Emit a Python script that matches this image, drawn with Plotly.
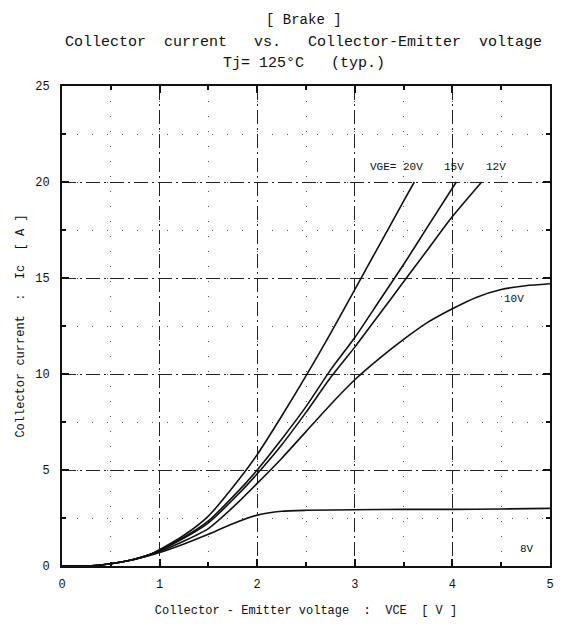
import plotly.graph_objects as go

# ---- data ----
x20 = [0, 0.3, 0.5, 0.7, 0.9, 1.0, 1.25, 1.5, 1.75, 2.0, 2.25, 2.5, 2.75, 3.0, 3.25, 3.5, 3.61]
y20 = [0, 0.01, 0.12, 0.3, 0.6, 0.85, 1.6, 2.6, 4.1, 5.8, 7.8, 9.9, 12.1, 14.4, 16.7, 19.0, 20.0]

x15 = [0, 0.3, 0.5, 0.7, 0.9, 1.0, 1.25, 1.5, 1.75, 2.0, 2.25, 2.5, 2.75, 3.0, 3.25, 3.5, 3.75, 4.04]
y15 = [0, 0.01, 0.12, 0.3, 0.6, 0.82, 1.5, 2.35, 3.6, 5.0, 6.6, 8.3, 10.2, 11.9, 13.8, 15.7, 17.7, 20.0]

x12 = [0, 0.3, 0.5, 0.7, 0.9, 1.0, 1.25, 1.5, 1.75, 2.0, 2.25, 2.5, 2.75, 3.0, 3.25, 3.5, 3.75, 4.0, 4.3]
y12 = [0, 0.01, 0.12, 0.3, 0.6, 0.8, 1.45, 2.25, 3.45, 4.8, 6.3, 8.0, 9.8, 11.4, 13.1, 14.8, 16.5, 18.2, 20.0]

x10 = [0, 0.3, 0.5, 0.7, 0.9, 1.0, 1.25, 1.5, 1.75, 2.0, 2.25, 2.5, 2.75, 3.0, 3.25, 3.5, 3.75, 4.0, 4.25, 4.5, 4.75, 5.0]
y10 = [0, 0.01, 0.12, 0.3, 0.58, 0.75, 1.3, 1.95, 3.05, 4.3, 5.6, 7.0, 8.4, 9.7, 10.8, 11.8, 12.7, 13.4, 14.0, 14.4, 14.6, 14.7]

x8 = [0, 0.3, 0.5, 0.7, 0.9, 1.0, 1.25, 1.5, 1.75, 2.0, 2.25, 2.5, 3.0, 3.5, 4.0, 4.5, 5.0]
y8 = [0, 0.01, 0.12, 0.3, 0.55, 0.7, 1.15, 1.65, 2.2, 2.65, 2.85, 2.9, 2.93, 2.95, 2.95, 2.97, 3.0]

curve_labels = ["VGE= 20V", "15V", "12V", "10V", "8V"]
label_x = [3.43, 4.02, 4.45, 4.63, 4.76]
label_y = [20.8, 20.8, 20.8, 13.9, 0.9]

x_ticks = [0, 1, 2, 3, 4, 5]
y_ticks = [0, 5, 10, 15, 20, 25]

title_lines = ["[ Brake ]",
               "Collector  current   vs.   Collector-Emitter  voltage",
               "Tj= 125\u00b0C   (typ.)"]
title_sizes = [14, 15, 15]
title_py = [20, 42, 63]
x_title = "Collector - Emitter voltage  :  VCE  [ V ]"
y_title = "Collector current  :  Ic  [ A ]"

FONT = "Liberation Mono"
INK = "#111111"

M_L, M_R, M_T, M_B = 62, 16, 86, 60
PLOT_H = 626 - M_T - M_B

fig = go.Figure()
for xs, ys in [(x20, y20), (x15, y15), (x12, y12), (x10, y10), (x8, y8)]:
    fig.add_trace(go.Scatter(x=xs, y=ys, mode="lines",
                             line=dict(color=INK, width=1.6, shape="spline", smoothing=0.6),
                             showlegend=False, hoverinfo="skip"))

for t, lx, ly in zip(curve_labels, label_x, label_y):
    fig.add_annotation(x=lx, y=ly, text=t, showarrow=False, xref="x", yref="y",
                       font=dict(family=FONT, size=11, color=INK))

for t, sz, py in zip(title_lines, title_sizes, title_py):
    fig.add_annotation(x=0.495, y=(626 - M_B - py) / PLOT_H, xref="paper", yref="paper",
                       text=t, showarrow=False, yanchor="middle",
                       xanchor="center", font=dict(family=FONT, size=sz, color=INK))

axis_common = dict(
    showline=True, linecolor=INK, linewidth=2, mirror="allticks",
    ticks="inside", ticklen=7, tickcolor=INK, tickwidth=1.5,
    showgrid=True, gridcolor="#222222", gridwidth=1, griddash="14px,4px,2px,4px",
    zeroline=False,
    tickfont=dict(family=FONT, size=12, color=INK),
)

fig.update_xaxes(range=[0, 5], tickvals=x_ticks, ticktext=[str(v) for v in x_ticks],
                 ticklabelstandoff=6,
                 minor=dict(dtick=0.5, ticks="inside", ticklen=4, tickcolor=INK,
                            showgrid=True, gridcolor="#555555", griddash="1px,14px", gridwidth=1),
                 title=dict(text=x_title, font=dict(family=FONT, size=12, color=INK), standoff=14),
                 **axis_common)
fig.update_yaxes(range=[0, 25], tickvals=y_ticks, ticktext=[str(v) for v in y_ticks],
                 ticklabelstandoff=8,
                 minor=dict(dtick=2.5, ticks="inside", ticklen=4, tickcolor=INK,
                            showgrid=True, gridcolor="#555555", griddash="1px,14px", gridwidth=1),
                 title=dict(text=y_title, font=dict(family=FONT, size=12, color=INK), standoff=8),
                 **axis_common)

fig.update_layout(width=566, height=626,
                  margin=dict(l=M_L, r=M_R, t=M_T, b=M_B, autoexpand=False),
                  plot_bgcolor="white", paper_bgcolor="white")

fig.write_html("out.html", config={"displayModeBar": False},
               post_script="document.body.style.margin='0';")
